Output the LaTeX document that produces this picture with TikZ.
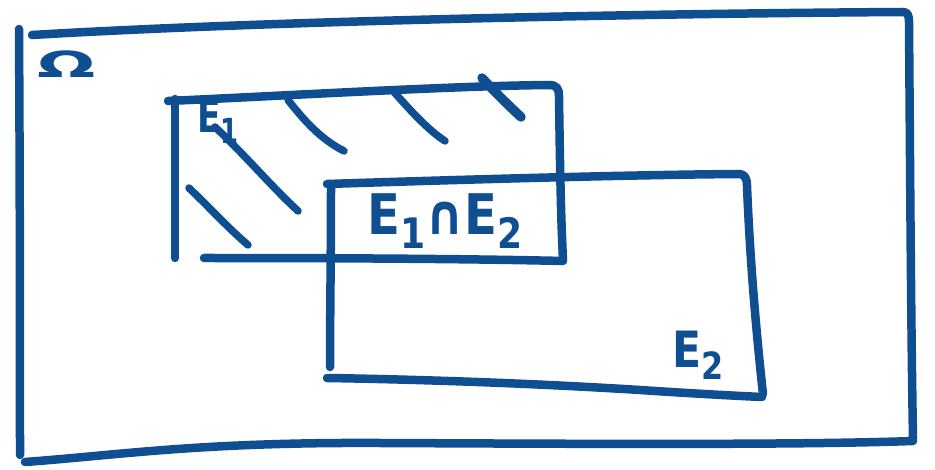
\documentclass[tikz,border=0pt]{standalone}
\usepackage{fontspec}
\setmainfont{DejaVu Sans}
\definecolor{ink}{RGB}{14,78,145}
\newcommand{\sub}[1]{\raisebox{-0.45ex}{\scalebox{0.75}{#1}}}
\begin{document}
\begin{tikzpicture}[x=1pt,y=-1pt,
  pen/.style={draw=ink,line width=8.5pt,line cap=round,line join=round},
  hatch/.style={pen,line width=7.5pt},
  lbl/.style={text=ink,inner sep=0pt,font=\bfseries}]
\useasboundingbox (0,0) rectangle (935,470);
% sample space
\draw[pen] (19,29) .. controls (20,200) and (20,350) .. (20,455);
\draw[pen] (32,35) .. controls (250,22) and (600,14) .. (903,12)
  .. controls (908,12) and (909,16) .. (909,22)
  .. controls (910,150) and (911,330) .. (913,438);
\draw[pen] (25,462) .. controls (120,455) and (200,442) .. (380,443)
  .. controls (600,444) and (800,445) .. (913,441);
\node[lbl] (omega) at (67,64) {\fontsize{36}{36}\selectfont\scalebox{1.9}[1]{Ω}};
% event E1
\draw[pen] (175,99) -- (175,258);
\draw[pen] (168,101) .. controls (300,95) and (450,86) .. (549,85)
  .. controls (557,85) and (559,89) .. (559,96)
  .. controls (560,170) and (561,220) .. (563,260);
\draw[pen] (204,258) .. controls (350,258) and (480,259) .. (563,261);
\node[lbl] (e1) at (218,121) {\fontsize{46}{46}\selectfont\scalebox{0.75}[1]{E\sub{1}}};
% shading of E1
\draw[hatch] (288,100) .. controls (300,115) and (318,138) .. (344,151);
\draw[hatch] (394,92) .. controls (410,110) and (428,130) .. (445,141);
\draw[hatch,line width=9.5pt] (482,78) .. controls (495,92) and (508,105) .. (521,117);
\draw[hatch] (215,127) .. controls (245,155) and (270,185) .. (298,211);
\draw[hatch] (189,188) .. controls (210,208) and (228,228) .. (248,245);
% event E2
\draw[pen] (331,187) .. controls (331,250) and (330,320) .. (330,367);
\draw[pen] (327,184) .. controls (450,180) and (620,175) .. (738,174)
  .. controls (745,174) and (747,178) .. (747,186)
  .. controls (750,260) and (756,330) .. (763,394);
\draw[pen] (327,378) .. controls (450,380) and (560,385) .. (640,390)
  .. controls (700,394) and (740,396) .. (762,397);
\node[lbl] (cap) at (445,221) {\fontsize{56}{56}\selectfont\scalebox{0.86}[1]{E\sub{1}∩E\sub{2}}};
\node[lbl] (e2) at (698,355) {\fontsize{50}{50}\selectfont\scalebox{0.85}[1]{E\sub{2}}};
\end{tikzpicture}
\end{document}
